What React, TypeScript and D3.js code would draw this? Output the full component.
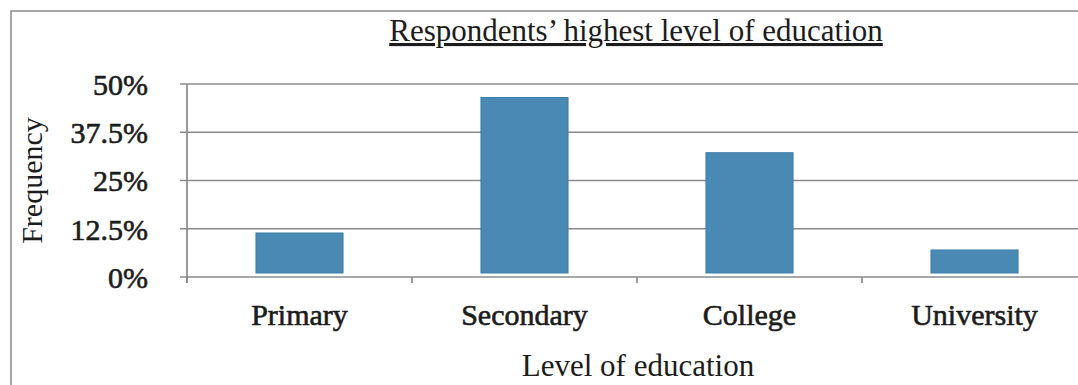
import React from "react";
import * as d3 from "d3";

// Share of respondents by highest level of education
const categories: string[] = ["Primary", "Secondary", "College", "University"];
const shares: number[] = [0.114, 0.465, 0.322, 0.07];
const tickValues: number[] = [0, 0.125, 0.25, 0.375, 0.5];
const tickLabels: string[] = ["0%", "12.5%", "25%", "37.5%", "50%"];

const W = 1078;
const H = 385;
const plot = { left: 187, right: 1087, top: 84, bottom: 277 };
const FONT = "'Liberation Serif', 'Times New Roman', serif";
const TEXT = "#1c1c1c";
const GRID = "#8a8a8a";
const BAR = "#4a89b4";
const BAR_EDGE = "#3d7daa";
const BAR_GAP = 4; // bars stop just short of the category axis

export default function App() {
  const x = d3
    .scaleBand<string>()
    .domain(categories)
    .range([plot.left, plot.right])
    .paddingInner(0.613)
    .paddingOuter(0.3065);

  const y = d3.scaleLinear().domain([0, 0.5]).range([plot.bottom, plot.top]);

  const step = x.step();
  const boundaries = categories.map((_, i) => plot.left + i * step);

  return (
    <svg
      width={W}
      height={H}
      style={{ position: "absolute", left: 0, top: 0, background: "#fff" }}
      fontFamily={FONT}
    >
      {/* outer frame */}
      <rect x={11} y={11} width={W + 20} height={H + 20} fill="none" stroke={GRID} strokeWidth={1.5} />

      {/* title */}
      <text
        x={636}
        y={41}
        textAnchor="middle"
        fontSize={31}
        fill={TEXT}
        style={{ textDecoration: "underline" }}
      >
        Respondents’ highest level of education
      </text>

      {/* horizontal gridlines */}
      {tickValues.map((v) => (
        <line
          key={"g" + v}
          x1={plot.left - 7}
          x2={W}
          y1={y(v)}
          y2={y(v)}
          stroke={GRID}
          strokeWidth={1.7}
        />
      ))}

      {/* value axis line */}
      <line x1={plot.left} x2={plot.left} y1={y(0.5)} y2={plot.bottom + 6} stroke={GRID} strokeWidth={1.7} />

      {/* category boundary ticks */}
      {boundaries.map((bx, i) => (
        <line key={"t" + i} x1={bx} x2={bx} y1={plot.bottom} y2={plot.bottom + 6} stroke={GRID} strokeWidth={1.7} />
      ))}

      {/* bars */}
      {categories.map((c, i) => (
        <rect
          key={c}
          x={x(c)}
          y={y(shares[i])}
          width={x.bandwidth()}
          height={y(0) - BAR_GAP - y(shares[i])}
          fill={BAR}
          stroke={BAR_EDGE}
          strokeWidth={1}
        />
      ))}

      {/* value tick labels */}
      {tickValues.map((v, i) => (
        <text
          key={"l" + v}
          x={148}
          y={y(v)}
          dy="0.36em"
          textAnchor="end"
          fontSize={30}
          fill={TEXT}
          stroke={TEXT}
          strokeWidth={0.6}
        >
          {tickLabels[i]}
        </text>
      ))}

      {/* category labels */}
      {categories.map((c) => (
        <text
          key={"c" + c}
          x={(x(c) as number) + x.bandwidth() / 2}
          y={325}
          textAnchor="middle"
          fontSize={30}
          fill={TEXT}
          stroke={TEXT}
          strokeWidth={0.6}
        >
          {c}
        </text>
      ))}

      {/* axis titles */}
      <text
        transform={`translate(42, ${(plot.top + plot.bottom) / 2}) rotate(-90)`}
        textAnchor="middle"
        fontSize={30}
        fill={TEXT}
      >
        Frequency
      </text>
      <text x={638} y={376} textAnchor="middle" fontSize={31} fill={TEXT}>
        Level of education
      </text>
    </svg>
  );
}
